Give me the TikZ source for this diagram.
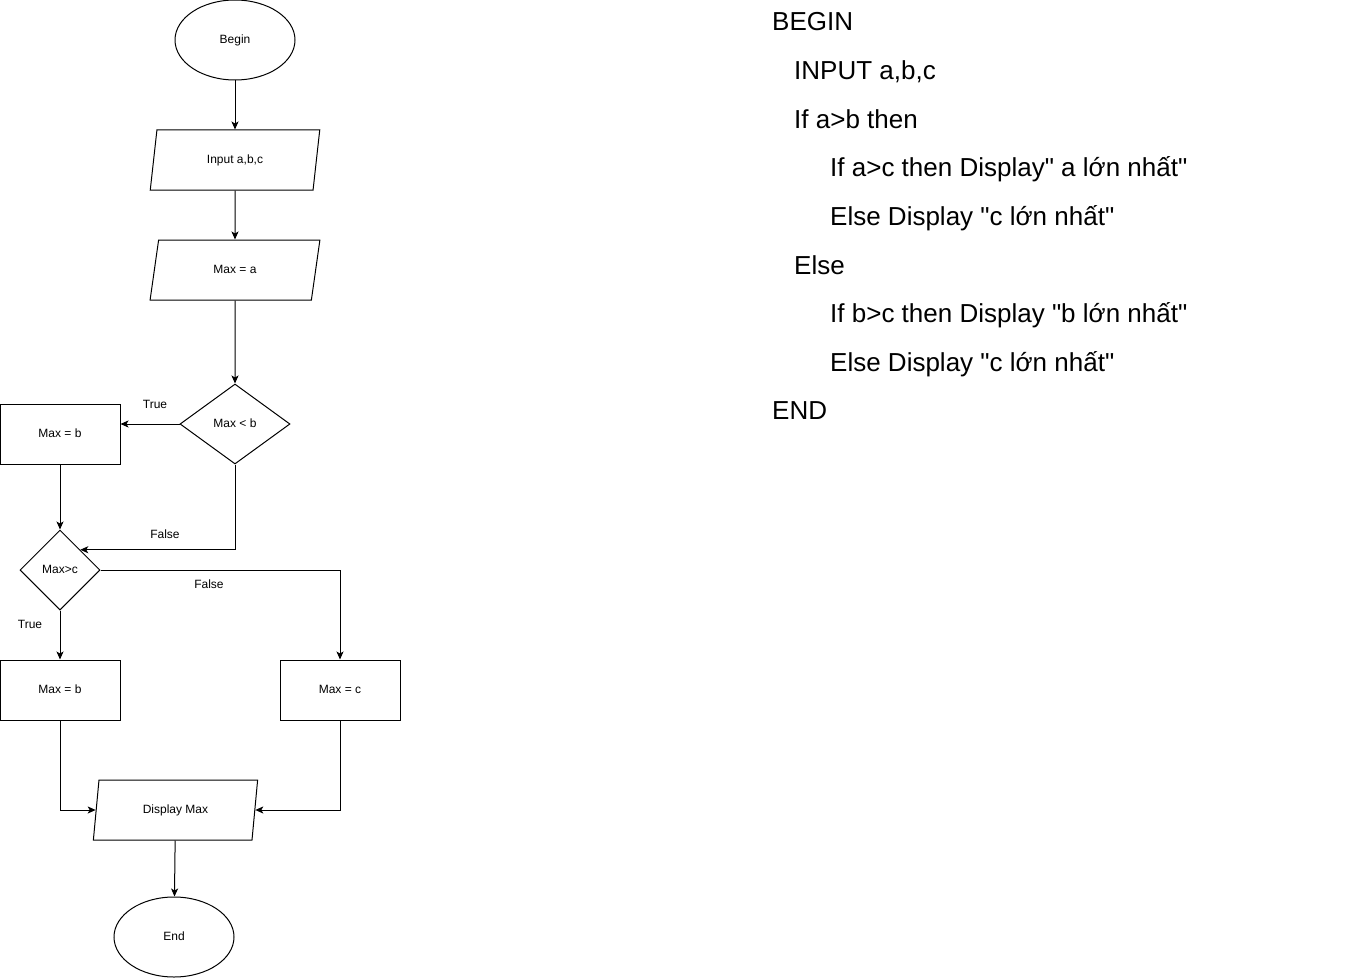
\documentclass[tikz,border=0pt]{standalone}
\usepackage{fontspec}
\setmainfont{Liberation Sans}
\newfontfamily\codefont{Liberation Sans}
\usetikzlibrary{shapes.geometric}
\usetikzlibrary{arrows.meta}

\tikzset{
    flow/.style={draw, line width=1pt, inner sep=0pt, text height=0.72em, text depth=0pt,
        font=\fontsize{12}{14}\selectfont},
    term/.style={flow, ellipse, minimum width=120, minimum height=80},
    io/.style={flow, trapezium, trapezium left angle=71.57, trapezium right angle=108.43,
        trapezium stretches=true, minimum width=170, minimum height=60},
    proc/.style={flow, rectangle, minimum width=120, minimum height=60},
    test/.style={flow, diamond, minimum width=110, minimum height=80},
    lbl/.style={font=\fontsize{12}{14}\selectfont},
    code/.style={anchor=base west, inner sep=0pt, font=\codefont\fontsize{26}{30}\selectfont},
    arr/.style={line width=1pt, -{Stealth[length=8pt, width=7pt, inset=2pt]}}
}

\begin{document}
\begin{tikzpicture}[x=1pt, y=-1pt]
    \useasboundingbox (0,0) rectangle (1371,979);

    \node [term] (begin) at (235,40) {Begin};
    \node [io] (input) at (235,160) {Input a,b,c};
    \node [io] (init) at (235,270) {Max = a};
    \node [test] (cmpb) at (235,424) {Max < b};
    \node [proc] (setb) at (60,434) {Max = b};
    \node [test, minimum width=80] (cmpc) at (60,570) {Max>c};
    \node [proc] (setbb) at (60,690) {Max = b};
    \node [proc] (setc) at (340,690) {Max = c};
    \node [io, minimum width=165] (show) at (175.5,810) {Display Max};
    \node [term] (end) at (174,937) {End};

    \draw [arr] (begin) -- (input);
    \draw [arr] (input) -- (init);
    \draw [arr] (init) -- (cmpb);
    \draw [arr] (cmpb.west) -- (cmpb.west -| setb.east);
    \draw [arr] (cmpb.south) |- (cmpc.north east);
    \draw [arr] (setb) -- (cmpc);
    \draw [arr] (cmpc.east) -| (setc.north);
    \draw [arr] (cmpc) -- (setbb);
    \draw [arr] (setbb.south) |- (show.west);
    \draw [arr] (setc.south) |- (show.east);
    \draw [arr] (show) -- (end);

    \node [lbl] (truea) at (155,404) {True};
    \node [lbl] (falsea) at (165,534) {False};
    \node [lbl] (falseb) at (209,584) {False};
    \node [lbl] (trueb) at (30,624) {True};

    \node [code] (l1) at (772,31) {BEGIN};
    \node [code] (l2) at (794,79.6) {INPUT a,b,c};
    \node [code] (l3) at (794,128.2) {If a>b then};
    \node [code] (l4) at (830,176.8) {If a>c then Display" a lớn nhất"};
    \node [code] (l5) at (830,225.4) {Else Display "c lớn nhất"};
    \node [code] (l6) at (794,274) {Else};
    \node [code] (l7) at (830,322.6) {If b>c then Display "b lớn nhất"};
    \node [code] (l8) at (830,371.2) {Else Display "c lớn nhất"};
    \node [code] (l9) at (772,419.8) {END};
\end{tikzpicture}
\end{document}
